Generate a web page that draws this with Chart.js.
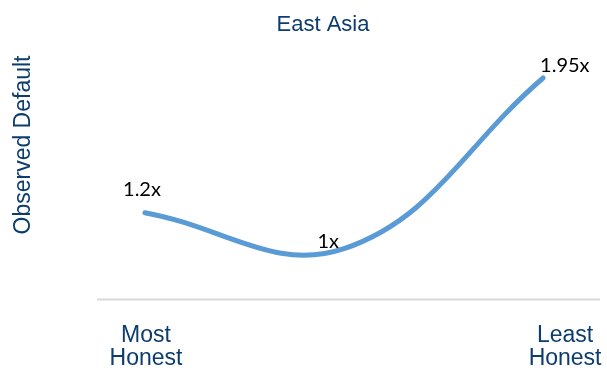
<!DOCTYPE html>
<html>
<head>
<meta charset="utf-8">
<script src="https://cdn.jsdelivr.net/npm/chart.js@4"></script>
<style>
html,body{margin:0;padding:0;background:#fff;}
#wrap{width:607px;height:371px;position:relative;}
</style>
</head>
<body>
<div id="wrap"><canvas id="c" width="607" height="371"></canvas></div>
<script>
const categories = ["Most Honest", "", "Least Honest"];
const categoryLines = [["Most", "Honest"], [], ["Least", "Honest"]];
const values = [1.2, 1.0, 1.95];
const valueLabels = ["1.2x", "1x", "1.95x"];
const chartTitle = "East Asia";
const yTitle = "Observed Default";

const TEXT_BLUE = "#0D3C6E";
const LINE_BLUE = "#5B9BD5";

const points = values.map((v, i) => ({ x: i, y: v }));

const decor = {
  id: "decor",
  afterDatasetsDraw(chart) {
    const ctx = chart.ctx;
    const area = chart.chartArea;
    const meta = chart.getDatasetMeta(0);
    ctx.save();
    // axis line
    ctx.strokeStyle = "#D9D9D9";
    ctx.lineWidth = 2;
    ctx.beginPath();
    ctx.moveTo(area.left, area.bottom + 0.5);
    ctx.lineTo(area.right, area.bottom + 0.5);
    ctx.stroke();

    // title
    ctx.fillStyle = TEXT_BLUE;
    ctx.font = "22px 'Liberation Sans', Arial, sans-serif";
    ctx.textAlign = "center";
    ctx.textBaseline = "alphabetic";
    ctx.fillText(chartTitle, 323, 31);

    // y title
    ctx.save();
    ctx.translate(30, 145);
    ctx.rotate(-Math.PI / 2);
    ctx.font = "23px 'Liberation Sans', Arial, sans-serif";
    ctx.textAlign = "center";
    ctx.textBaseline = "alphabetic";
    ctx.fillText(yTitle, 0, 0);
    ctx.restore();

    // category labels
    ctx.font = "23px 'Liberation Sans', Arial, sans-serif";
    ctx.textAlign = "center";
    const xShift = [1, 0, 22];
    categoryLines.forEach((lines, i) => {
      if (!lines.length) return;
      const px = meta.data[i].x + xShift[i];
      lines.forEach((t, j) => ctx.fillText(t, px, 342 + j * 23));
    });

    // data labels
    ctx.fillStyle = "#000";
    ctx.font = "20px Lato, 'Open Sans', sans-serif";
    ctx.textBaseline = "alphabetic";
    meta.data.forEach((pt, i) => {
      const t = valueLabels[i];
      if (i === 0) { ctx.textAlign = "center"; ctx.fillText(t, pt.x - 3, pt.y - 17); }
      else if (i === 1) { ctx.textAlign = "right"; ctx.fillText(t, pt.x - 5, pt.y - 1); }
      else { ctx.textAlign = "left"; ctx.fillText(t, pt.x - 3, pt.y - 6); }
    });
    ctx.restore();
  }
};

new Chart(document.getElementById("c"), {
  type: "line",
  data: {
    datasets: [{
      data: points,
      borderColor: LINE_BLUE,
      borderWidth: 5,
      borderCapStyle: "round",
      pointRadius: 0,
      tension: 0.4,
      fill: false
    }]
  },
  options: {
    responsive: false,
    animation: false,
    layout: { padding: { top: 69, bottom: 72, left: 97, right: 7 } },
    plugins: { legend: { display: false }, title: { display: false }, tooltip: { enabled: false } },
    scales: {
      x: { type: "linear", display: false, min: -0.241, max: 2.286 },
      y: { type: "linear", display: false, min: 0.72, max: 2.0 }
    }
  },
  plugins: [decor]
});
</script>
</body>
</html>
